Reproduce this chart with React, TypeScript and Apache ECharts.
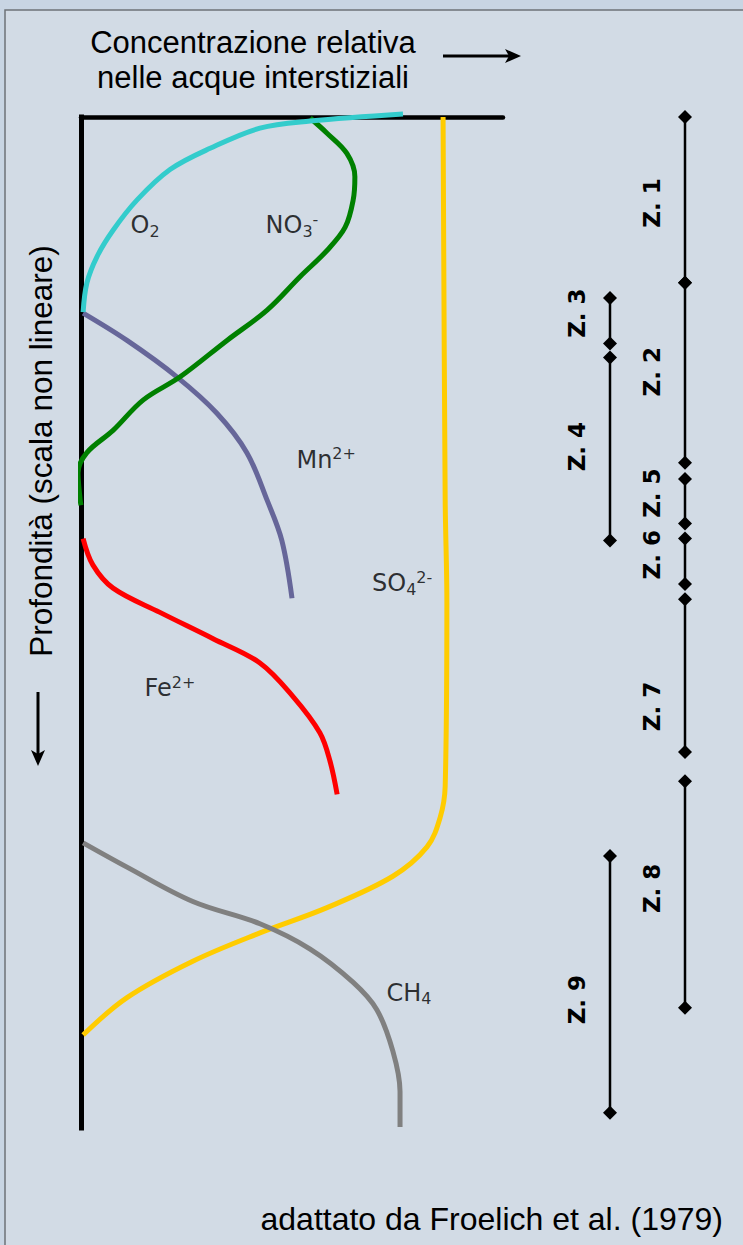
import React, { useEffect, useRef } from "react";
import * as echarts from "echarts";

const W = 743;
const H = 1245;

// ---- Profiles: relative concentration (0-100) vs depth (0-100, non-linear scale) ----
const O2_CONC = [76.3, 54.3, 42.4, 30.6, 21.1, 13.3, 7.6, 3.8, 1.4, 0.5];
const O2_DEPTH = [-0.3, 0.4, 1.1, 3.1, 5.2, 8.2, 11.2, 13.8, 16.4, 19.3];

const NO3_CONC = [54.3, 58.3, 63.0, 64.9, 64.5, 62.6, 58.3, 51.9, 44.1, 34.6, 23.5, 14.7, 7.6, 1.4, -0.7, -0.2, 0];
const NO3_DEPTH = [0.1, 1.6, 3.6, 5.9, 8.2, 10.9, 13.2, 15.8, 19.1, 22.1, 25.7, 28.0, 31.0, 33.2, 35.2, 37.9, 38.4];

const MN_CONC = [0.5, 10.9, 22.7, 32.2, 39.3, 44.1, 47.6, 50.0];
const MN_DEPTH = [19.4, 22.1, 25.7, 29.3, 33.2, 37.9, 41.9, 47.6];

const FE_CONC = [0.5, 2.8, 7.6, 18.7, 31.3, 42.4, 50.2, 56.6, 59.0, 60.7];
const FE_DEPTH = [41.7, 44.3, 46.6, 49.0, 51.6, 54.0, 57.3, 60.9, 63.7, 67.0];

const SO4_CONC = [85.8, 86.3, 86.7, 86.3, 85.1, 82.0, 73.9, 58.3, 42.4, 26.5, 10.9, 0.5];
const SO4_DEPTH = [0, 37.9, 48.0, 66.2, 69.3, 72.2, 75.1, 78.2, 80.7, 83.5, 87.1, 90.8];

const CH4_CONC = [0.5, 10.9, 26.5, 42.4, 54.3, 64.5, 70.1, 73.9, 75.6, 75.6];
const CH4_DEPTH = [71.8, 74.2, 77.6, 79.8, 82.3, 85.6, 88.3, 92.4, 96.4, 99.9];

// ---- Curve labels ----
const LABEL_TEXT = [
  "{b|O}{sub|2}",
  "{b|NO}{sub|3}{sup|-}",
  "{b|Mn}{sup|2+}",
  "{b|SO}{sub|4}{sup|2-}",
  "{b|Fe}{sup|2+}",
  "{b|CH}{sub|4}",
];
const LABEL_CONC = [15.2, 50.0, 58.1, 76.1, 21.1, 77.7];
const LABEL_DEPTH = [10.7, 10.7, 33.9, 46.1, 56.5, 86.6];

// ---- Zones (column index, start depth, end depth, label depth) ----
const ZONE_NAMES = ["Z. 1", "Z. 2", "Z. 3", "Z. 4", "Z. 5", "Z. 6", "Z. 7", "Z. 8", "Z. 9"];
const ZONE_COL = [6, 6, 3, 3, 6, 6, 6, 6, 3];
const ZONE_START = [0, 16.4, 17.9, 23.8, 35.8, 41.7, 47.7, 65.7, 73.1];
const ZONE_END = [16.4, 34.2, 22.4, 41.9, 40.2, 46.2, 62.8, 88.1, 98.5];
const ZONE_LABEL_AT = [8.5, 25.2, 19.4, 32.6, 37.2, 43.3, 58.3, 76.3, 87.3];

const TITLE_LINES = ["Concentrazione relativa", "nelle acque interstiziali"];
const Y_TITLE = "Profondità (scala non lineare)";
const CREDIT = "adattato da Froelich et al. (1979)";

const zip = (a: number[], b: number[]) => a.map((v, i) => [v, b[i]]);

const ARIAL = '"Liberation Sans", Arial, sans-serif';
const VERD = '"DejaVu Sans", Verdana, sans-serif';

function curve(name: string, color: string, xs: number[], ys: number[]) {
  return {
    name,
    type: "line",
    xAxisIndex: 0,
    yAxisIndex: 0,
    data: zip(xs, ys),
    smooth: 0.35,
    symbol: "none",
    clip: false,
    lineStyle: { color, width: 5, cap: "butt" },
    silent: true,
  };
}

export default function App() {
  const ref = useRef<HTMLDivElement>(null);

  useEffect(() => {
    if (!ref.current) return;
    const chart = echarts.init(ref.current, null, { renderer: "svg" });

    const zoneData = ZONE_NAMES.map((_, i) => [ZONE_COL[i], ZONE_START[i], ZONE_END[i], ZONE_LABEL_AT[i]]);
    const labelData = LABEL_TEXT.map((t, i) => ({ value: [LABEL_CONC[i], LABEL_DEPTH[i]], name: t }));

    const option: any = {
      animation: false,
      backgroundColor: "#c8d5e3",
      grid: [
        { left: 81, right: W - 503, top: 117, bottom: H - 1128 },
        { left: 535, right: W - 710, top: 117, bottom: H - 1128 },
      ],
      xAxis: [
        {
          type: "value",
          gridIndex: 0,
          min: 0,
          max: 100,
          position: "top",
          axisLine: { show: true, onZero: false, lineStyle: { color: "#000", width: 4.5 } },
          axisTick: { show: false },
          axisLabel: { show: false },
          splitLine: { show: false },
        },
        {
          type: "value",
          gridIndex: 1,
          min: 0,
          max: 7,
          show: false,
        },
      ],
      yAxis: [
        {
          type: "value",
          gridIndex: 0,
          min: 0,
          max: 100,
          inverse: true,
          axisLine: { show: true, onZero: false, lineStyle: { color: "#000", width: 5, cap: "square" } },
          axisTick: { show: false },
          axisLabel: { show: false },
          splitLine: { show: false },
        },
        {
          type: "value",
          gridIndex: 1,
          min: 0,
          max: 100,
          inverse: true,
          show: false,
        },
      ],
      series: [
        curve("SO4", "#ffcc00", SO4_CONC, SO4_DEPTH),
        curve("CH4", "#808080", CH4_CONC, CH4_DEPTH),
        curve("Fe", "#ff0000", FE_CONC, FE_DEPTH),
        curve("Mn", "#666699", MN_CONC, MN_DEPTH),
        curve("NO3", "#008000", NO3_CONC, NO3_DEPTH),
        curve("O2", "#33cccc", O2_CONC, O2_DEPTH),
        {
          type: "scatter",
          xAxisIndex: 0,
          yAxisIndex: 0,
          data: labelData,
          symbolSize: 0,
          silent: true,
          label: {
            show: true,
            position: "inside",
            formatter: (p: any) => p.name,
            rich: {
              b: { fontSize: 24, lineHeight: 28, fontFamily: VERD, color: "#000" },
              sub: { fontSize: 16, lineHeight: 15, fontFamily: VERD, color: "#000", verticalAlign: "bottom" },
              sup: { fontSize: 16, lineHeight: 17, fontFamily: VERD, color: "#000", verticalAlign: "top" },
            },
          },
        },
        {
          type: "custom",
          xAxisIndex: 1,
          yAxisIndex: 1,
          data: zoneData,
          silent: true,
          clip: false,
          renderItem: (params: any, api: any) => {
            const col = api.value(0);
            const p1 = api.coord([col, api.value(1)]);
            const p2 = api.coord([col, api.value(2)]);
            const pl = api.coord([col, api.value(3)]);
            const dia = (p: number[]) => ({
              type: "polygon",
              shape: {
                points: [
                  [p[0], p[1] - 7],
                  [p[0] + 7, p[1]],
                  [p[0], p[1] + 7],
                  [p[0] - 7, p[1]],
                ],
              },
              style: { fill: "#000" },
            });
            return {
              type: "group",
              children: [
                {
                  type: "line",
                  shape: { x1: p1[0], y1: p1[1], x2: p2[0], y2: p2[1] },
                  style: { stroke: "#000", lineWidth: 2.5 },
                },
                dia(p1),
                dia(p2),
                {
                  type: "text",
                  x: pl[0] - 33,
                  y: pl[1],
                  rotation: Math.PI / 2,
                  style: {
                    text: ZONE_NAMES[params.dataIndex],
                    fill: "#000",
                    fontSize: 23,
                    fontWeight: "bold",
                    fontFamily: VERD,
                    align: "center",
                    verticalAlign: "middle",
                  },
                },
              ],
            };
          },
        },
      ],
      graphic: [
        {
          type: "rect",
          z: -10,
          silent: true,
          shape: { x: 5, y: 10, width: 900, height: 1400 },
          style: { fill: "#d2dbe5", stroke: "#6e7378", lineWidth: 1.5 },
        },
        {
          type: "text",
          x: 253,
          y: 42,
          style: { text: TITLE_LINES[0], fontSize: 31, fontFamily: ARIAL, fill: "#000", align: "center", verticalAlign: "middle" },
        },
        {
          type: "text",
          x: 253,
          y: 77,
          style: { text: TITLE_LINES[1], fontSize: 31, fontFamily: ARIAL, fill: "#000", align: "center", verticalAlign: "middle" },
        },
        {
          type: "line",
          shape: { x1: 443, y1: 56, x2: 510, y2: 56 },
          style: { stroke: "#000", lineWidth: 3 },
        },
        {
          type: "polygon",
          shape: { points: [[521, 56], [505, 49], [509, 56], [505, 63]] },
          style: { fill: "#000" },
        },
        {
          type: "text",
          x: 41,
          y: 451,
          rotation: Math.PI / 2,
          style: { text: Y_TITLE, fontSize: 31.5, fontFamily: ARIAL, fill: "#000", align: "center", verticalAlign: "middle" },
        },
        {
          type: "line",
          shape: { x1: 38, y1: 692, x2: 38, y2: 755 },
          style: { stroke: "#000", lineWidth: 3 },
        },
        {
          type: "polygon",
          shape: { points: [[38, 766], [31, 750], [38, 754], [45, 750]] },
          style: { fill: "#000" },
        },
        {
          type: "text",
          x: 723,
          y: 1219,
          style: { text: CREDIT, fontSize: 32, fontFamily: ARIAL, fill: "#000", align: "right", verticalAlign: "middle" },
        },
      ],
    };

    chart.setOption(option);
    return () => chart.dispose();
  }, []);

  return <div ref={ref} style={{ position: "absolute", left: 0, top: 0, width: W, height: H }} />;
}
